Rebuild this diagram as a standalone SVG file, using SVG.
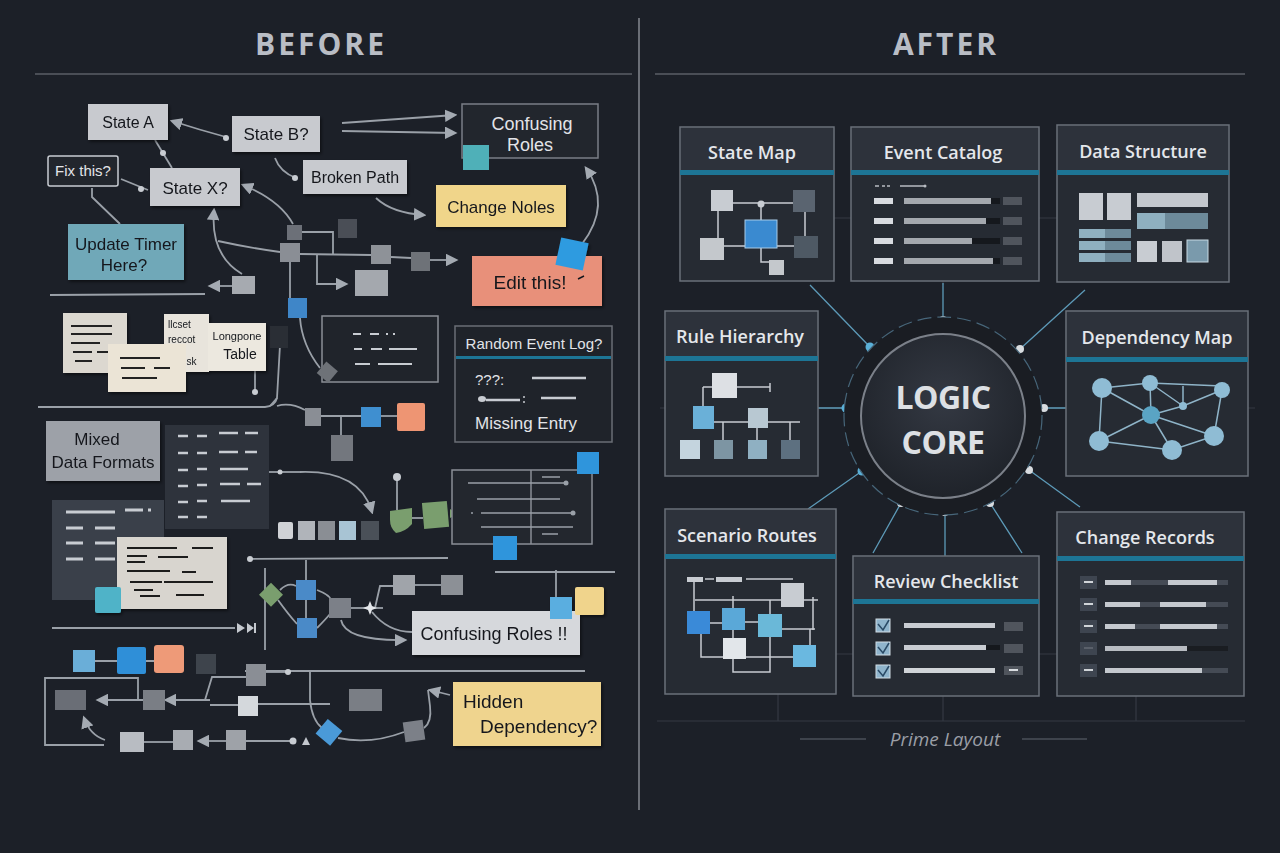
<svg xmlns="http://www.w3.org/2000/svg" width="1280" height="853" viewBox="0 0 1280 853">
<defs>
<style>
.hw{font-family:"Liberation Sans","DejaVu Sans",sans-serif;fill:#15181d}
.hwl{font-family:"Liberation Sans","DejaVu Sans",sans-serif;fill:#e2e4e8}
.ttl{font-family:"Open Sans","Noto Sans",sans-serif;font-weight:600;font-size:18px;fill:#e4e7eb}
.hdr{font-family:"Open Sans","Liberation Sans",sans-serif;font-weight:700;font-size:30px;fill:#b9bdc5;letter-spacing:3px}
.ln{stroke:#9aa0a8;stroke-width:1.8;fill:none}
.lna{stroke:#9aa0a8;stroke-width:1.8;fill:none;marker-end:url(#ah)}
.panel{fill:#262b33;stroke:#6a707a;stroke-width:1.5}
.phead{fill:#2d323b}
.teal{fill:#1d7595}
.spoke{stroke:#5d9ab8;stroke-width:1.3;fill:none}
.grid{stroke:#343943;stroke-width:1.2;fill:none}
.core{font-family:"Open Sans","Noto Sans",sans-serif;font-weight:700;font-size:32px;fill:#dde0e4;letter-spacing:-0.5px}
</style>
<marker id="ah" viewBox="0 0 10 10" refX="8" refY="5" markerWidth="7" markerHeight="7" orient="auto-start-reverse"><path d="M0,0 L10,5 L0,10 z" fill="#a4aab2"/></marker>
<radialGradient id="core" cx="50%" cy="40%" r="60%"><stop offset="0" stop-color="#343943"/><stop offset="1" stop-color="#1f232a"/></radialGradient>
<filter id="sh" x="-10%" y="-10%" width="130%" height="130%"><feDropShadow dx="1.5" dy="2" stdDeviation="1.5" flood-color="#000" flood-opacity="0.5"/></filter>
</defs>
<rect width="1280" height="853" fill="#1c2028"/>
<g id="headers">
<text x="321" y="55" text-anchor="middle" class="hdr">BEFORE</text>
<text x="946" y="55" text-anchor="middle" class="hdr">AFTER</text>
<line x1="35" y1="74" x2="632" y2="74" stroke="#5a5e66" stroke-width="1.5"/>
<line x1="655" y1="74" x2="1245" y2="74" stroke="#5a5e66" stroke-width="1.5"/>
<line x1="639" y1="18" x2="639" y2="810" stroke="#6a6e76" stroke-width="2"/>
</g>

<g id="before-connectors">
<path class="lna" d="M226,137 Q200,130 172,121"/>
<circle cx="226" cy="138" r="3" fill="#c8ccd2"/>
<path class="ln" d="M155,140 L172,168"/><circle cx="163" cy="153" r="3" fill="#c8ccd2"/>
<path class="ln" d="M121,179 L148,190"/><circle cx="141" cy="189" r="3" fill="#c8ccd2"/>
<path class="ln" d="M92,188 L92,197 L120,224"/>
<path class="lna" d="M342,123 L455,115"/>
<path class="lna" d="M342,131 L455,133"/>
<path class="ln" d="M275,158 Q280,172 296,178"/><circle cx="295" cy="178" r="3" fill="#c8ccd2"/>
<path class="lna" d="M376,198 Q392,213 424,215"/>
<path class="lna" d="M582,244 Q612,205 586,168"/>
<path class="lna" d="M242,274 Q210,255 214,210"/>
<path class="lna" d="M293,224 Q280,200 243,185"/>
<path class="ln" d="M218,241 Q250,248 280,252"/>
<path class="ln" d="M302,232 L333,232 L333,254"/>
<path class="ln" d="M300,254 L371,255"/>
<path class="ln" d="M391,257 L411,258"/>
<path class="lna" d="M430,260 L456,260"/>
<path class="lna" d="M317,254 L317,284 L346,284"/>
<path class="lna" d="M232,286 L210,286"/>
<path class="ln" d="M50,295 L205,294"/>
<path class="ln" d="M290,262 L290,298"/>
<path class="ln" d="M300,318 Q302,345 320,368"/>
<path class="ln" d="M255,371 L255,392"/><circle cx="255" cy="392" r="3" fill="#c8ccd2"/>
<path class="ln" d="M280,345 L277,398 L270,406"/>
<path class="ln" d="M38,407 L265,407 Q275,406 277,398"/>
<path class="ln" d="M277,406 Q290,402 305,410"/>
<path class="ln" d="M321,416 L361,416"/>
<path class="ln" d="M341,416 L341,436"/>
<path class="ln" d="M381,416 L397,416"/>
<path class="ln" d="M269,472 L300,472"/><circle cx="280" cy="472" r="2.5" fill="#c8ccd2"/>
<path class="lna" d="M300,472 Q360,470 372,512"/>
<path class="ln" d="M397,480 L397,510"/><circle cx="397" cy="477" r="4" fill="#c8ccd2"/>
<path class="ln" d="M412,518 L423,518"/>
<path class="ln" d="M248,559 L448,558"/><circle cx="250" cy="559" r="3" fill="#c8ccd2"/>
<path class="ln" d="M495,572 L615,572"/>
<path class="ln" d="M265,568 L265,650"/>
<path class="ln" d="M306,560 L306,580 M306,600 L306,618"/>
<path class="ln" d="M280,590 Q288,582 296,586 M278,600 Q288,614 297,624"/>
<path class="ln" d="M317,590 Q330,595 331,600 M317,628 Q325,620 330,614"/>
<path class="ln" d="M351,608 L383,608"/>
<path class="ln" d="M375,608 L380,586 L393,586"/>
<path class="ln" d="M415,585 L441,585"/>
<path class="lna" d="M341,620 Q345,641 405,640"/>
<path class="ln" d="M372,612 Q388,632 412,632"/>
<path d="M370,601 L372,606 L377,608 L372,610 L370,615 L368,610 L363,608 L368,606 z" fill="#e4e6ea"/>
<path class="ln" d="M556,570 L556,597"/>
<path class="ln" d="M52,628 L235,628"/>
<path d="M237,623 L245,628 L237,633 z M247,623 L254,628 L247,633 z M254,623 L256,623 L256,633 L254,633 z" fill="#c4c8ce"/>
<path class="ln" d="M95,661 L117,661 M146,661 L154,661"/>
<path class="ln" d="M245,671 L585,671"/>
<path class="ln" d="M138,700 V678 H45 V745 H104"/>
<path class="lna" d="M143,700 L98,700"/>
<path class="lna" d="M210,700 L166,700"/>
<path class="ln" d="M205,700 L212,677 L246,677"/>
<path class="ln" d="M210,705 L238,705 M258,704 L330,704"/>
<path class="ln" d="M266,672 L290,672"/><circle cx="288" cy="672" r="3" fill="#c8ccd2"/>
<path class="lna" d="M105,740 Q90,735 84,718"/>
<path class="ln" d="M144,742 L173,742"/>
<path class="lna" d="M226,741 L199,741"/>
<path class="ln" d="M246,741 L292,741"/><circle cx="293" cy="741" r="3.5" fill="#c8ccd2"/>
<path d="M302,745 L306,737 L310,745 z" fill="#c4c8ce"/>
<path class="ln" d="M310,672 L310,700 Q312,720 322,728"/>
<path class="ln" d="M338,738 Q370,745 404,732"/>
<path class="ln" d="M424,728 Q432,722 430,706 L428,690"/>
<path class="lna" d="M450,695 L430,690"/>
</g>

<g id="state-a" filter="url(#sh)"><rect x="88" y="104" width="80" height="36" fill="#c8cacf"/><text x="128" y="128" text-anchor="middle" class="hw" font-size="16">State A</text></g>
<g id="state-b" filter="url(#sh)"><rect x="232" y="116" width="88" height="36" fill="#c8cacf"/><text x="276" y="140" text-anchor="middle" class="hw" font-size="17">State B?</text></g>
<g id="fix-this"><rect x="48" y="156" width="70" height="30" rx="2" fill="#22262d" stroke="#c8ccd2" stroke-width="1.5"/><text x="83" y="176" text-anchor="middle" class="hwl" font-size="15">Fix this?</text></g>
<g id="state-x" filter="url(#sh)"><rect x="150" y="168" width="90" height="38" fill="#c8cacf"/><text x="195" y="194" text-anchor="middle" class="hw" font-size="17">State X?</text></g>
<g id="broken-path" filter="url(#sh)"><rect x="303" y="160" width="104" height="34" fill="#c8cacf"/><text x="355" y="183" text-anchor="middle" class="hw" font-size="16">Broken Path</text></g>
<g id="confusing-roles-1"><rect x="462" y="104" width="136" height="54" fill="#22262d" stroke="#7a7e86" stroke-width="1.5"/><text x="532" y="130" text-anchor="middle" class="hwl" font-size="18">Confusing</text><text x="530" y="151" text-anchor="middle" class="hwl" font-size="18">Roles</text><rect x="463" y="145" width="26" height="25" fill="#4fb0b8"/></g>
<g id="change-noles" filter="url(#sh)"><rect x="436" y="185" width="130" height="42" fill="#f0d58a"/><text x="501" y="213" text-anchor="middle" class="hw" font-size="17">Change Noles</text></g>
<g id="update-timer" filter="url(#sh)"><rect x="68" y="224" width="116" height="56" fill="#6fa8b8"/><text x="126" y="250" text-anchor="middle" class="hw" font-size="17">Update Timer</text><text x="124" y="271" text-anchor="middle" class="hw" font-size="17">Here?</text></g>
<g id="edit-this" filter="url(#sh)"><rect x="472" y="256" width="130" height="50" fill="#e8907a"/><text x="530" y="289" text-anchor="middle" class="hw" font-size="19">Edit this!</text><path d="M578,279 L584,276" stroke="#15181d" stroke-width="1.5"/><rect x="558" y="240" width="28" height="28" fill="#2f9be0" transform="rotate(12 572 254)"/></g>
<g id="small-squares-top">
<rect x="287" y="225" width="15" height="15" fill="#6c7078"/>
<rect x="280" y="243" width="20" height="19" fill="#8a8e95"/>
<rect x="338" y="219" width="19" height="19" fill="#4a4e56"/>
<rect x="232" y="276" width="23" height="18" fill="#a6aab0"/>
<rect x="288" y="298" width="19" height="20" fill="#3f86c8"/>
<rect x="371" y="245" width="20" height="19" fill="#8e9298"/>
<rect x="411" y="252" width="19" height="19" fill="#6e7278"/>
<rect x="355" y="270" width="33" height="26" fill="#a4a8ae"/>
<rect x="270" y="326" width="18" height="22" fill="#2a2e35"/>
</g>
<g id="notes-stack" filter="url(#sh)">
<rect x="63" y="313" width="64" height="60" fill="#dcd8d0"/>
<path d="M71,326 H112 M71,334 H112 M71,343 H100 M73,352 H92 M97,352 H110 M75,361 H92" stroke="#222" stroke-width="1.8"/>
<rect x="164" y="314" width="45" height="58" fill="#e8e4dc"/>
<text x="168" y="328" class="hw" font-size="10">llcset</text>
<text x="168" y="343" class="hw" font-size="10">reccot</text>
<text x="176" y="365" class="hw" font-size="10">cusk</text>
<rect x="208" y="323" width="58" height="48" fill="#ece8df"/>
<text x="237" y="340" text-anchor="middle" class="hw" font-size="11">Longpone</text>
<text x="240" y="359" text-anchor="middle" class="hw" font-size="14">Table</text>
<rect x="108" y="344" width="78" height="48" fill="#ebe4d6"/>
<path d="M120,358 H160 M121,368 H145 M154,368 H170 M122,378 H157" stroke="#222" stroke-width="1.8"/>
</g>
<g id="dash-box"><rect x="322" y="316" width="116" height="66" fill="#20242b" stroke="#8a8e96" stroke-width="1.5"/>
<path d="M353,334 H361 M370,334 H379 M386,334 H388 M393,334 H395 M354,349 H362 M371,349 H382 M389,349 H417 M355,364 H370 M378,364 H412" stroke="#c8ccd2" stroke-width="2.2"/>
<rect x="320" y="365" width="15" height="15" fill="#6e7278" transform="rotate(40 328 372)"/></g>
<g id="random-event-log"><rect x="455" y="326" width="157" height="116" fill="#1f232a" stroke="#6a6e76" stroke-width="1.5"/>
<text x="534" y="349" text-anchor="middle" class="hwl" font-size="15">Random Event Log?</text>
<rect x="456" y="356" width="155" height="3" class="teal"/>
<text x="475" y="385" class="hwl" font-size="15">???:</text>
<path d="M532,378 H586 M541,398 H576" stroke="#c8ccd2" stroke-width="2.5"/>
<ellipse cx="482" cy="399" rx="4" ry="3" fill="#c8ccd2"/><path d="M486,400 H520" stroke="#c8ccd2" stroke-width="2.5"/><circle cx="524" cy="397" r="1" fill="#c8ccd2"/><circle cx="524" cy="402" r="1" fill="#c8ccd2"/>
<text x="475" y="429" class="hwl" font-size="17">Missing Entry</text></g>
<g id="row-squares-mid">
<rect x="305" y="408" width="16" height="18" fill="#8a8e95"/>
<rect x="361" y="407" width="20" height="20" fill="#3f8fd0"/>
<rect x="397" y="403" width="28" height="28" rx="2" fill="#ee9573"/>
<rect x="331" y="435" width="22" height="26" fill="#73777e"/>
</g>
<g id="mixed-data" filter="url(#sh)"><rect x="46" y="421" width="114" height="60" fill="#9da1a8"/><text x="97" y="445" text-anchor="middle" class="hw" font-size="17">Mixed</text><text x="103" y="468" text-anchor="middle" class="hw" font-size="17">Data Formats</text></g>
<g id="dark-table-1"><rect x="165" y="425" width="104" height="104" fill="#2e333c"/>
<path d="M178,436 H188 M197,436 H207 M219,433 H238 M245,433 H258 M178,453 H188 M197,453 H207 M219,452 H238 M245,452 H257 M178,470 H188 M197,469 H207 M220,469 H248 M178,486 H188 M197,485 H207 M220,484 H240 M247,484 H261 M178,502 H188 M197,501 H207 M221,501 H250 M178,517 H188 M197,517 H207" stroke="#c8ccd2" stroke-width="2.5"/></g>
<g id="dark-table-2"><rect x="52" y="500" width="112" height="100" fill="#3a404a"/>
<path d="M66,512 H115 M125,510 H143 M148,510 H151 M66,528 H83 M95,528 H115 M66,543 H83 M95,543 H115 M66,559 H83 M95,559 H115" stroke="#c8ccd2" stroke-width="3"/></g>
<g id="paper-note" filter="url(#sh)"><rect x="117" y="537" width="110" height="72" fill="#d8d5cf"/>
<path d="M127,548 H177 M192,548 H213 M127,556 H147 M158,557 H188 M127,562 H145 M127,571 H170 M182,572 H196 M130,582 H162 M164,582 H213 M134,590 H153 M140,596 H160 M176,595 H204" stroke="#1a1a1a" stroke-width="2"/>
<rect x="95" y="587" width="26" height="26" rx="2" fill="#4fb3c8"/></g>
<g id="row-squares-low">
<rect x="278" y="522" width="15" height="17" rx="2" fill="#d0d2d6"/>
<rect x="298" y="521" width="17" height="19" fill="#b0b4ba"/>
<rect x="318" y="521" width="17" height="19" fill="#8a8e94"/>
<rect x="339" y="521" width="17" height="19" fill="#a8c4d4"/>
<rect x="361" y="521" width="18" height="19" fill="#4a5058"/>
<path d="M390,511 L412,508 L412,524 Q405,532 396,533 Q390,528 390,520 z" fill="#7a9e6e"/>
<rect x="423" y="502" width="25" height="26" fill="#7a9e6e" transform="rotate(-5 435 515)"/>
<path d="M450,509 L457,514 L450,518 z" fill="#7a9e6e"/>
</g>
<g id="grid-table"><rect x="452" y="470" width="140" height="74" fill="#23272e" stroke="#8a8e96" stroke-width="1.5"/>
<line x1="531" y1="470" x2="531" y2="544" stroke="#8a8e96" stroke-width="1.5"/>
<path d="M468,483 H565 M477,499 H560 M481,513 H573 M481,527 H573 M542,477 H560 M542,534 H558" stroke="#9aa0a8" stroke-width="1.5"/>
<circle cx="566" cy="483" r="2.5" fill="#9aa0a8"/><circle cx="573" cy="513" r="2.5" fill="#9aa0a8"/><circle cx="472" cy="513" r="1" fill="#9aa0a8"/>
<rect x="577" y="452" width="22" height="22" fill="#2f95dc"/>
<rect x="493" y="536" width="24" height="24" fill="#2f95dc"/></g>
<g id="diamond-cluster">
<rect x="263" y="586" width="17" height="17" fill="#7a9e6e" transform="rotate(45 271 594)"/>
<rect x="296" y="580" width="20" height="20" fill="#4a8ac8"/>
<rect x="297" y="618" width="20" height="20" fill="#4a8ac8"/>
<rect x="329" y="598" width="22" height="20" fill="#7c8088"/>
<rect x="393" y="575" width="22" height="20" fill="#a0a4aa"/>
<rect x="441" y="575" width="22" height="20" fill="#8c9096"/>
</g>
<g id="confusing-roles-2" filter="url(#sh)"><rect x="412" y="611" width="168" height="44" fill="#d6d8dc"/><text x="494" y="640" text-anchor="middle" class="hw" font-size="18">Confusing Roles !!</text>
<rect x="550" y="597" width="22" height="22" fill="#5aaee0"/><rect x="575" y="587" width="29" height="28" rx="2" fill="#f0d48c"/></g>
<g id="color-squares">
<rect x="73" y="650" width="22" height="22" fill="#6aaed8"/>
<rect x="117" y="647" width="29" height="27" rx="2" fill="#2f8fd8"/>
<rect x="154" y="645" width="30" height="28" rx="3" fill="#ee9a78"/>
<rect x="196" y="654" width="20" height="20" fill="#3e444c"/>
<rect x="246" y="664" width="20" height="22" fill="#8a8e95"/>
<rect x="55" y="690" width="31" height="20" fill="#6a6e76"/>
<rect x="143" y="690" width="22" height="20" fill="#7a7e85"/>
<rect x="238" y="696" width="20" height="20" fill="#d4d8dc"/>
<rect x="349" y="689" width="33" height="22" fill="#7a7e85"/>
<rect x="120" y="732" width="24" height="20" fill="#b8bcc2"/>
<rect x="173" y="730" width="20" height="20" fill="#a8acb2"/>
<rect x="226" y="730" width="20" height="20" fill="#9ea2a8"/>
<rect x="319" y="723" width="19" height="19" fill="#4a9ad8" transform="rotate(40 329 733)"/>
<rect x="404" y="721" width="20" height="20" fill="#7c8088" transform="rotate(-8 414 731)"/>
</g>
<g id="hidden-dependency" filter="url(#sh)"><rect x="453" y="682" width="148" height="64" fill="#efd48e"/><text x="463" y="708" class="hw" font-size="19">Hidden</text><text x="480" y="733" class="hw" font-size="19">Dependency?</text></g>

<g id="after-connectors">
<path class="grid" d="M834,218 H851 M1039,218 H1057 M818,408 H846 M1044,408 H1066 M836,654 H853 M1039,654 H1057 M660,408 H665 M1248,408 H1255 M657,721 H1245 M778,694 V721 M1136,696 V721 M943,281 V285 M943,696 V721"/>
<path class="spoke" d="M810,285 L870,347 M943,283 L943,320 M1085,290 L1020,349 M818,408 L846,408 M1066,408 L1044,408 M808,509 L862,471 M1080,507 L1029,470 M873,553 L901,503 M945,556 L945,512 M1022,553 L990,503"/>
<circle cx="870" cy="347" r="4.5" fill="#5ab0d8"/>
<circle cx="943" cy="320" r="4" fill="#d8dce0"/>
<circle cx="1020" cy="349" r="4" fill="#d8dce0"/>
<circle cx="846" cy="408" r="4.5" fill="#5ab0d8"/>
<circle cx="1044" cy="408" r="4" fill="#d8dce0"/>
<circle cx="862" cy="471" r="4.5" fill="#5ab0d8"/>
<circle cx="1029" cy="470" r="4" fill="#d8dce0"/>
<circle cx="901" cy="503" r="4" fill="#d8dce0"/>
<circle cx="945" cy="512" r="4" fill="#d8dce0"/>
<circle cx="990" cy="503" r="4" fill="#d8dce0"/>
</g>
<g id="logic-core">
<circle cx="943" cy="416" r="99" fill="#1a1d23" stroke="#47667a" stroke-width="1.2" stroke-dasharray="14 6"/>
<circle cx="943" cy="416" r="82" fill="url(#core)" stroke="#7b8089" stroke-width="2"/>
<text x="943" y="409" text-anchor="middle" class="core">LOGIC</text>
<text x="943" y="454" text-anchor="middle" class="core">CORE</text>
</g>
<g id="state-map"><rect x="680" y="127" width="154" height="154" class="panel"/><rect x="681" y="128" width="152" height="42" class="phead"/><rect x="680" y="170" width="154" height="5" class="teal"/>
<text x="752" y="159" text-anchor="middle" class="ttl">State Map</text>
<path d="M733,203 H793 M761,205 V220 M718,211 V238 M724,246 H745 M777,246 H794 M805,212 V236 M761,248 V262 H769" stroke="#c8ccd2" stroke-width="1.5" fill="none"/>
<circle cx="761" cy="204" r="3.5" fill="#c8ccd2"/>
<rect x="711" y="190" width="22" height="21" fill="#c8ccd2"/>
<rect x="793" y="190" width="22" height="22" fill="#5a6470"/>
<rect x="745" y="220" width="32" height="28" fill="#3a8ad0" stroke="#a8cce8" stroke-width="1"/>
<rect x="700" y="238" width="24" height="22" fill="#c4c8cc"/>
<rect x="794" y="236" width="24" height="22" fill="#4e5964"/>
<rect x="769" y="260" width="15" height="15" fill="#c4c8cc"/></g>
<g id="event-catalog"><rect x="851" y="127" width="188" height="154" class="panel"/><rect x="852" y="128" width="186" height="42" class="phead"/><rect x="851" y="170" width="188" height="5" class="teal"/>
<text x="943" y="159" text-anchor="middle" class="ttl">Event Catalog</text>
<path d="M875,186 H879 M882,186 H885 M887,186 H890 M900,186 H924" stroke="#b8bcc2" stroke-width="1.5"/><circle cx="925" cy="186" r="1.5" fill="#b8bcc2"/>
<g fill="#d8dbe0"><rect x="874" y="198" width="19" height="6"/><rect x="874" y="218" width="19" height="6"/><rect x="874" y="238" width="19" height="6"/><rect x="874" y="258" width="19" height="6"/></g>
<g fill="#15181d"><rect x="904" y="198" width="96" height="6"/><rect x="904" y="218" width="96" height="6"/><rect x="904" y="238" width="96" height="6"/><rect x="904" y="258" width="96" height="6"/></g>
<g fill="#a4a8ae"><rect x="904" y="198" width="87" height="6"/><rect x="904" y="218" width="82" height="6"/><rect x="904" y="238" width="68" height="6"/><rect x="904" y="258" width="89" height="6"/></g>
<g fill="#50555d"><rect x="1003" y="197" width="19" height="8"/><rect x="1003" y="217" width="19" height="8"/><rect x="1003" y="237" width="19" height="8"/><rect x="1003" y="257" width="19" height="8"/></g></g>
<g id="data-structure"><rect x="1057" y="125" width="172" height="157" class="panel"/><rect x="1058" y="126" width="170" height="44" class="phead"/><rect x="1057" y="170" width="172" height="5" class="teal"/>
<text x="1143" y="158" text-anchor="middle" class="ttl">Data Structure</text>
<rect x="1079" y="193" width="24" height="27" fill="#c8ccd2"/><rect x="1107" y="193" width="24" height="27" fill="#c8ccd2"/>
<rect x="1137" y="193" width="71" height="14" fill="#c4c8ce"/>
<rect x="1137" y="213" width="71" height="16" fill="#6d8a9a"/><rect x="1137" y="213" width="28" height="16" fill="#8fb0c0"/>
<rect x="1079" y="229" width="52" height="9" fill="#6d8a9a"/><rect x="1079" y="229" width="26" height="9" fill="#8fb0c0"/>
<rect x="1079" y="241" width="52" height="9" fill="#6d8a9a"/><rect x="1079" y="241" width="26" height="9" fill="#8fb0c0"/>
<rect x="1079" y="253" width="52" height="9" fill="#6d8a9a"/><rect x="1079" y="253" width="26" height="9" fill="#8fb0c0"/>
<rect x="1137" y="241" width="20" height="21" fill="#c8ccd2"/><rect x="1162" y="241" width="20" height="21" fill="#c0c4ca"/>
<rect x="1187" y="240" width="21" height="22" fill="#7a9aac" stroke="#c8dae4" stroke-width="1"/></g>
<g id="rule-hierarchy"><rect x="665" y="311" width="153" height="165" class="panel"/><rect x="666" y="312" width="151" height="44" class="phead"/><rect x="665" y="356" width="153" height="5" class="teal"/>
<text x="740" y="343" text-anchor="middle" class="ttl">Rule Hierarchy</text>
<path d="M737,387 H770 M770,383 V392 M703,387 H712 M703,387 V407 M714,422 H800 M723,422 V440 M757,428 V440 M790,422 V440" stroke="#c8ccd2" stroke-width="1.5" fill="none"/>
<rect x="712" y="373" width="25" height="25" fill="#dde0e4"/>
<rect x="693" y="406" width="21" height="23" fill="#6ab0d8"/>
<rect x="748" y="408" width="20" height="20" fill="#b8c8d2"/>
<rect x="680" y="440" width="20" height="19" fill="#c4d4de"/>
<rect x="714" y="440" width="19" height="19" fill="#7d95a3"/>
<rect x="748" y="440" width="19" height="19" fill="#8fb0c2"/>
<rect x="781" y="440" width="19" height="19" fill="#5d7080"/></g>
<g id="dependency-map"><rect x="1066" y="311" width="182" height="165" class="panel"/><rect x="1067" y="312" width="180" height="45" class="phead"/><rect x="1066" y="357" width="182" height="5" class="teal"/>
<text x="1157" y="344" text-anchor="middle" class="ttl">Dependency Map</text>
<path d="M1102,388 L1150,383 L1222,386 M1150,383 L1183,406 M1183,386 V406 M1102,388 L1151,415 M1150,383 L1151,415 M1151,415 L1183,406 L1222,390 M1102,388 L1099,441 M1151,415 L1099,441 M1151,415 L1214,436 M1099,441 L1172,450 L1214,436 M1151,415 L1172,450 M1222,390 L1214,436" stroke="#8fb4c8" stroke-width="1.5" fill="none"/>
<g fill="#8fbcd4"><circle cx="1102" cy="388" r="10"/><circle cx="1150" cy="383" r="8"/><circle cx="1222" cy="390" r="8"/><circle cx="1183" cy="406" r="4"/><circle cx="1099" cy="441" r="10"/><circle cx="1172" cy="450" r="10"/><circle cx="1214" cy="436" r="10"/></g>
<circle cx="1151" cy="415" r="9" fill="#5aa4c4"/></g>
<g id="scenario-routes"><rect x="665" y="509" width="171" height="185" class="panel"/><rect x="666" y="510" width="169" height="44" class="phead"/><rect x="665" y="554" width="171" height="5" class="teal"/>
<text x="747" y="542" text-anchor="middle" class="ttl">Scenario Routes</text>
<rect x="687" y="577" width="16" height="5" fill="#c8ccd2"/><rect x="716" y="577" width="26" height="5" fill="#c8ccd2"/>
<path d="M705,579 H714 M746,579 H793 M695,600 H818 M694,580 V611 M733,596 V608 M770,600 V614 M813,597 V630 M710,623 H722 M745,622 H758 M782,629 H815 M701,634 V657 H723 M733,630 V638 M733,659 V672 H770 V637 M746,657 H793 M810,629 V645" stroke="#c8ccd2" stroke-width="1.5" fill="none"/>
<rect x="781" y="583" width="23" height="24" fill="#c8ccd2"/>
<rect x="687" y="611" width="23" height="23" fill="#3a8ad8"/>
<rect x="722" y="608" width="23" height="22" fill="#5aa8d8"/>
<rect x="758" y="614" width="24" height="23" fill="#6ab8d8"/>
<rect x="723" y="638" width="23" height="21" fill="#e2e6ea"/>
<rect x="793" y="645" width="23" height="22" fill="#6ab8e0"/></g>
<g id="review-checklist"><rect x="853" y="556" width="186" height="140" class="panel"/><rect x="854" y="557" width="184" height="43" class="phead"/><rect x="853" y="599" width="186" height="5" class="teal"/>
<text x="946" y="588" text-anchor="middle" class="ttl">Review Checklist</text>
<g fill="#8fb4cc" stroke="#d0dce4" stroke-width="1"><rect x="876" y="619" width="14" height="13"/><rect x="876" y="642" width="14" height="13"/><rect x="876" y="665" width="14" height="13"/></g>
<path d="M878,624 L883,630 L889,620 M878,647 L883,653 L889,643 M878,670 L883,676 L889,666" stroke="#2a4a66" stroke-width="1.5" fill="none"/>
<rect x="904" y="623" width="91" height="5" fill="#c8ccd2"/><rect x="904" y="645" width="82" height="5" fill="#c8ccd2"/><rect x="986" y="645" width="14" height="5" fill="#15181d"/><rect x="904" y="668" width="91" height="5" fill="#d0d4d8"/>
<rect x="1004" y="622" width="19" height="9" fill="#50555d"/><rect x="1004" y="644" width="19" height="9" fill="#50555d"/><rect x="1004" y="666" width="19" height="9" fill="#50555d"/><rect x="1009" y="669" width="9" height="2" fill="#d8dce0"/></g>
<g id="change-records"><rect x="1057" y="512" width="187" height="184" class="panel"/><rect x="1058" y="513" width="185" height="43" class="phead"/><rect x="1057" y="556" width="187" height="5" class="teal"/>
<text x="1145" y="544" text-anchor="middle" class="ttl">Change Records</text>
<g fill="#3e4550"><rect x="1080" y="576" width="17" height="13"/><rect x="1080" y="598" width="17" height="13"/><rect x="1080" y="620" width="17" height="13"/><rect x="1080" y="642" width="17" height="13"/><rect x="1080" y="664" width="17" height="13"/></g>
<g fill="#d0d4d8"><rect x="1084" y="581" width="9" height="2"/><rect x="1084" y="603" width="9" height="2"/><rect x="1084" y="625" width="9" height="2"/><rect x="1084" y="647" width="9" height="2" fill="#5a606a"/><rect x="1084" y="669" width="9" height="2"/></g>
<g fill="#454b55"><rect x="1105" y="580" width="123" height="5"/><rect x="1105" y="602" width="123" height="5"/><rect x="1105" y="624" width="123" height="5"/><rect x="1105" y="646" width="123" height="5" fill="#1a1d22"/><rect x="1105" y="668" width="123" height="5"/></g>
<g fill="#c4c8ce"><rect x="1105" y="580" width="26" height="5"/><rect x="1168" y="580" width="49" height="5"/><rect x="1105" y="602" width="35" height="5"/><rect x="1160" y="602" width="46" height="5"/><rect x="1105" y="624" width="30" height="5"/><rect x="1160" y="624" width="57" height="5"/><rect x="1105" y="646" width="82" height="5" fill="#b8bcc2"/><rect x="1105" y="668" width="97" height="5"/></g></g>
<g id="prime-layout">
<path d="M800,739 H866 M1022,739 H1087" stroke="#4a4f58" stroke-width="1.5"/>
<text x="945" y="746" text-anchor="middle" font-family="Open Sans,Noto Sans,sans-serif" font-style="italic" font-size="19" fill="#9a9ea6">Prime Layout</text>
</g>
</svg>
